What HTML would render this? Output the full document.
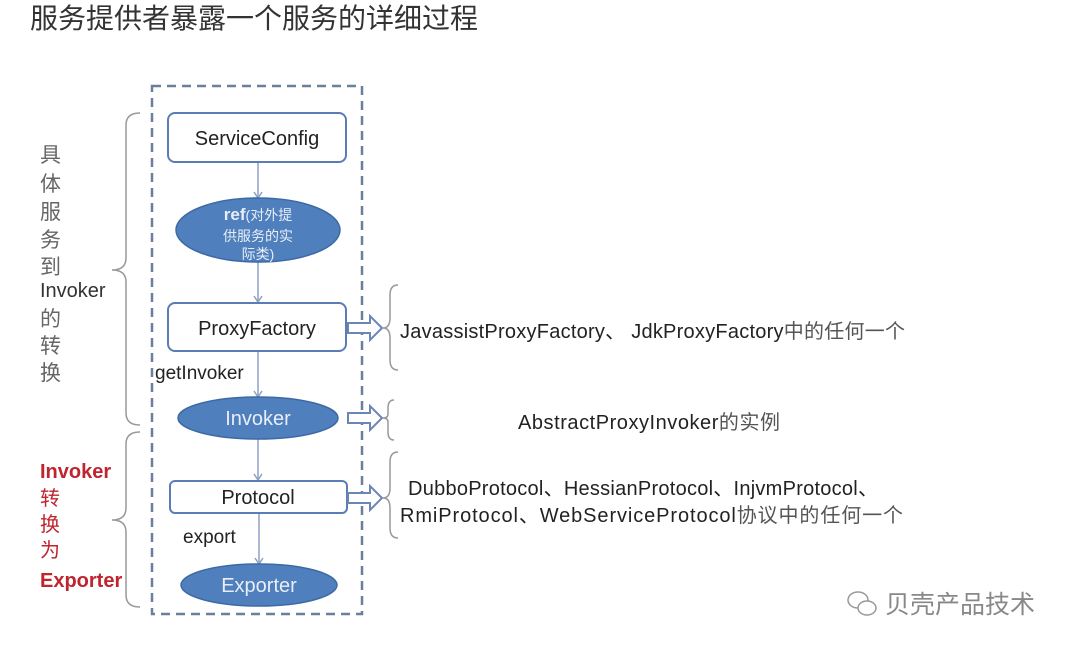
<!DOCTYPE html>
<html><head><meta charset="utf-8"><style>
html,body{margin:0;padding:0;background:#fff;}
svg{display:block;font-family:"Liberation Sans","Noto Sans CJK SC",sans-serif;}
</style></head><body>
<svg width="1080" height="652" viewBox="0 0 1080 652">
<text x="30" y="28" font-size="28" fill="#333">服务提供者暴露一个服务的详细过程</text>
<rect x="152" y="86" width="210" height="528" fill="none" stroke="#6b7f9a" stroke-width="2.5" stroke-dasharray="9,6"/>
<g stroke="#8ea1c4" stroke-width="1.5" fill="none">
<line x1="258" y1="162" x2="258" y2="198"/><polyline points="254,192 258,198 262,192"/>
<line x1="258" y1="262" x2="258" y2="302"/><polyline points="254,296 258,302 262,296"/>
<line x1="258" y1="351" x2="258" y2="397"/><polyline points="254,391 258,397 262,391"/>
<line x1="258" y1="439" x2="258" y2="480"/><polyline points="254,474 258,480 262,474"/>
<line x1="259" y1="513" x2="259" y2="564"/><polyline points="255,558 259,564 263,558"/>
</g>
<rect x="168" y="113" width="178" height="49" rx="7" fill="#fff" stroke="#5b7db5" stroke-width="2"/>
<text x="257" y="145" font-size="20" text-anchor="middle" fill="#222">ServiceConfig</text>
<ellipse cx="258" cy="230" rx="82" ry="32" fill="#4f7fbd" stroke="#3d6aa5" stroke-width="1.5"/>
<text x="258" y="220" font-size="17" text-anchor="middle" fill="#e8eef8"><tspan font-weight="bold">ref</tspan><tspan font-size="14">(对外提</tspan></text>
<text x="258" y="241" font-size="14" text-anchor="middle" fill="#e8eef8">供服务的实</text>
<text x="258" y="259" font-size="14" text-anchor="middle" fill="#e8eef8">际类)</text>
<rect x="168" y="303" width="178" height="48" rx="7" fill="#fff" stroke="#5b7db5" stroke-width="2"/>
<text x="257" y="335" font-size="20" text-anchor="middle" fill="#222">ProxyFactory</text>
<text x="155" y="379" font-size="19" fill="#222">getInvoker</text>
<ellipse cx="258" cy="418" rx="80" ry="21" fill="#4f7fbd" stroke="#3d6aa5" stroke-width="1.5"/>
<text x="258" y="425" font-size="20" text-anchor="middle" fill="#e8eef8">Invoker</text>
<rect x="170" y="481" width="177" height="32" rx="5" fill="#fff" stroke="#5b7db5" stroke-width="2"/>
<text x="258" y="504" font-size="20" text-anchor="middle" fill="#222">Protocol</text>
<text x="183" y="543" font-size="19" fill="#222">export</text>
<ellipse cx="259" cy="585" rx="78" ry="21" fill="#4f7fbd" stroke="#3d6aa5" stroke-width="1.5"/>
<text x="259" y="592" font-size="20" text-anchor="middle" fill="#e8eef8">Exporter</text>
<g fill="#fff" stroke="#6b85b5" stroke-width="2">
<polygon points="348,323 370,323 370,316 382,328 370,340 370,333 348,333"/>
<polygon points="348,413 370,413 370,406 382,418 370,430 370,423 348,423"/>
<polygon points="348,493 370,493 370,486 382,498 370,510 370,503 348,503"/>
</g>
<g fill="none" stroke="#999" stroke-width="1.5">
<path d="M398,285 Q390,285 390,295 L390,318 Q390,328 383,328 Q390,328 390,338 L390,360 Q390,370 398,370"/>
<path d="M394,400 Q388,400 388,408 L388,414 Q388,418 383,418 Q388,418 388,422 L388,432 Q388,440 394,440"/>
<path d="M398,452 Q390,452 390,462 L390,488 Q390,498 383,498 Q390,498 390,508 L390,528 Q390,538 398,538"/>
<path d="M140,113 Q126,113 126,125 L126,258 Q126,270 112,270 Q126,270 126,282 L126,413 Q126,425 140,425"/>
<path d="M140,432 Q126,432 126,444 L126,508 Q126,520 112,520 Q126,520 126,532 L126,595 Q126,607 140,607"/>
</g>
<text x="400" y="338" font-size="20" fill="#222" textLength="505">JavassistProxyFactory、 JdkProxyFactory<tspan fill="#555">中的任何一个</tspan></text>
<text x="518" y="429" font-size="20" fill="#222" textLength="262">AbstractProxyInvoker<tspan fill="#555">的实例</tspan></text>
<text x="408" y="495" font-size="20" fill="#222" textLength="470">DubboProtocol、HessianProtocol、InjvmProtocol、</text>
<text x="400" y="522" font-size="20" fill="#222" textLength="503">RmiProtocol、WebServiceProtocol<tspan fill="#555">协议中的任何一个</tspan></text>
<g font-size="21" fill="#666">
<text x="40" y="162">具</text><text x="40" y="191">体</text><text x="40" y="219">服</text><text x="40" y="247">务</text><text x="40" y="274">到</text>
<text x="40" y="297" font-size="20" fill="#333">Invoker</text>
<text x="40" y="326">的</text><text x="40" y="353">转</text><text x="40" y="380">换</text>
</g>
<g font-size="20" fill="#c0242f">
<text x="40" y="478" font-weight="bold">Invoker</text>
<text x="40" y="505">转</text><text x="40" y="531">换</text><text x="40" y="557">为</text>
<text x="40" y="587" font-weight="bold">Exporter</text>
</g>
<g fill="none" stroke="#999" stroke-width="1.5">
<ellipse cx="858" cy="600" rx="10" ry="8"/>
<ellipse cx="867" cy="608" rx="9" ry="7" fill="#fff"/>
</g>
<text x="885" y="613" font-size="25" fill="#888">贝壳产品技术</text>
</svg>
</body></html>
